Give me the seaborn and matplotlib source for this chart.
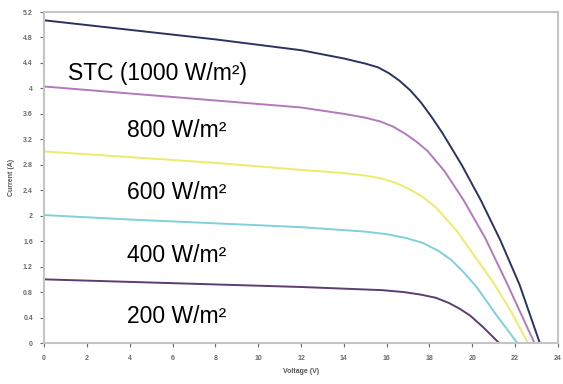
import matplotlib
matplotlib.use("Agg")
import matplotlib.pyplot as plt
import seaborn as sns
import pandas as pd

# ---- data ----
labels = ["STC (1000 W/m²)", "800 W/m²", "600 W/m²", "400 W/m²", "200 W/m²"]

v_stc = [0, 4, 8, 12, 14, 15.0, 15.6, 16.1, 16.6, 17.1, 17.6, 18.1, 18.6, 19.5, 20.4, 21.3, 22.2, 23.15]
i_stc = [5.07, 4.92, 4.77, 4.60, 4.47, 4.39, 4.33, 4.24, 4.12, 3.97, 3.78, 3.55, 3.30, 2.80, 2.24, 1.62, 0.92, 0.0]

v_800 = [0, 4, 8, 12, 14, 15.0, 15.7, 16.3, 16.9, 17.4, 17.9, 18.7, 19.6, 20.6, 21.6, 22.9]
i_800 = [4.03, 3.92, 3.81, 3.70, 3.60, 3.54, 3.48, 3.40, 3.28, 3.16, 3.02, 2.70, 2.24, 1.65, 0.95, 0.0]

v_600 = [0, 4, 8, 12, 14, 15.0, 15.7, 16.4, 17.1, 17.7, 18.3, 19.3, 20.2, 21, 21.8, 22.6]
i_600 = [3.01, 2.92, 2.83, 2.72, 2.67, 2.63, 2.59, 2.52, 2.41, 2.29, 2.13, 1.75, 1.32, 0.94, 0.50, 0.0]

v_400 = [0, 4, 8, 12, 15.0, 16.0, 16.9, 17.7, 18.4, 19.0, 19.6, 20.2, 21.1, 22.1]
i_400 = [2.01, 1.94, 1.88, 1.82, 1.75, 1.71, 1.65, 1.57, 1.45, 1.31, 1.11, 0.88, 0.45, 0.0]

v_200 = [0, 4, 8, 12, 15.8, 16.8, 17.6, 18.3, 18.9, 19.4, 19.9, 20.5, 21.25]
i_200 = [1.00, 0.96, 0.92, 0.88, 0.83, 0.80, 0.76, 0.71, 0.63, 0.54, 0.43, 0.25, 0.0]

x_ticks = list(range(0, 25, 2))
y_ticks = [0, 0.4, 0.8, 1.2, 1.6, 2.0, 2.4, 2.8, 3.2, 3.6, 4.0, 4.4, 4.8, 5.2]
y_tick_labels = ["0", "0.4", "0.8", "1.2", "1.6", "2", "2.4", "2.8", "3.2", "3.6", "4", "4.4", "4.8", "5.2"]

# label anchor positions (data coords)
label_x = [1.12, 3.88, 3.88, 3.88, 3.88]
label_y = [4.24, 3.34, 2.37, 1.38, 0.42]

colors = ["#2c3360", "#b478bc", "#ecec6a", "#7fd0da", "#5c3d72"]

series_v = [v_stc, v_800, v_600, v_400, v_200]
series_i = [i_stc, i_800, i_600, i_400, i_200]

rows = []
for lab, vs, cs in zip(labels, series_v, series_i):
    for k, (v, c) in enumerate(zip(vs, cs)):
        rows.append({"Voltage": v, "Current": c, "Irradiance": lab, "order": k})
df = pd.DataFrame(rows)

sns.set_style("white")
plt.rcParams["font.family"] = ["Liberation Sans", "DejaVu Sans"]

fig = plt.figure(figsize=(5.63, 3.84), dpi=100)
ax = fig.add_axes([44 / 563, 41 / 384, 514 / 563, 331 / 384])

sns.lineplot(data=df, x="Voltage", y="Current", hue="Irradiance",
             palette=dict(zip(labels, colors)), sort=False, estimator=None,
             linewidth=1.4, legend=False, ax=ax)
for ln in ax.get_lines():
    ln.set_solid_joinstyle("round")

ax.set_xlim(0, 24)
ax.set_ylim(0, 5.2)
ax.set_xticks(x_ticks)
ax.set_xticklabels([str(t) for t in x_ticks])
ax.set_yticks(y_ticks)
ax.set_yticklabels(y_tick_labels)

tick_col = "#6a6a6a"
ax.tick_params(axis="both", labelsize=5, colors=tick_col, length=3, width=0.8,
               direction="out", bottom=True, left=True)
for t in ax.get_xticklabels() + ax.get_yticklabels():
    t.set_fontweight("bold")
ax.tick_params(axis="x", pad=6)
ax.tick_params(axis="y", pad=5)

for s in ax.spines.values():
    s.set_color("#c4c4c4")
    s.set_linewidth(1.5)
    s.set_visible(True)

ax.set_xlabel("Voltage (V)", fontsize=5, fontweight="bold", color="#555555", labelpad=4)
ax.set_ylabel("Current (A)", fontsize=5, fontweight="bold", color="#555555", labelpad=6)

for lab, lx, ly in zip(labels, label_x, label_y):
    ax.text(lx, ly, lab, fontsize=16.5, color="black", va="center", ha="left")

fig.savefig("out.png", dpi=100)
